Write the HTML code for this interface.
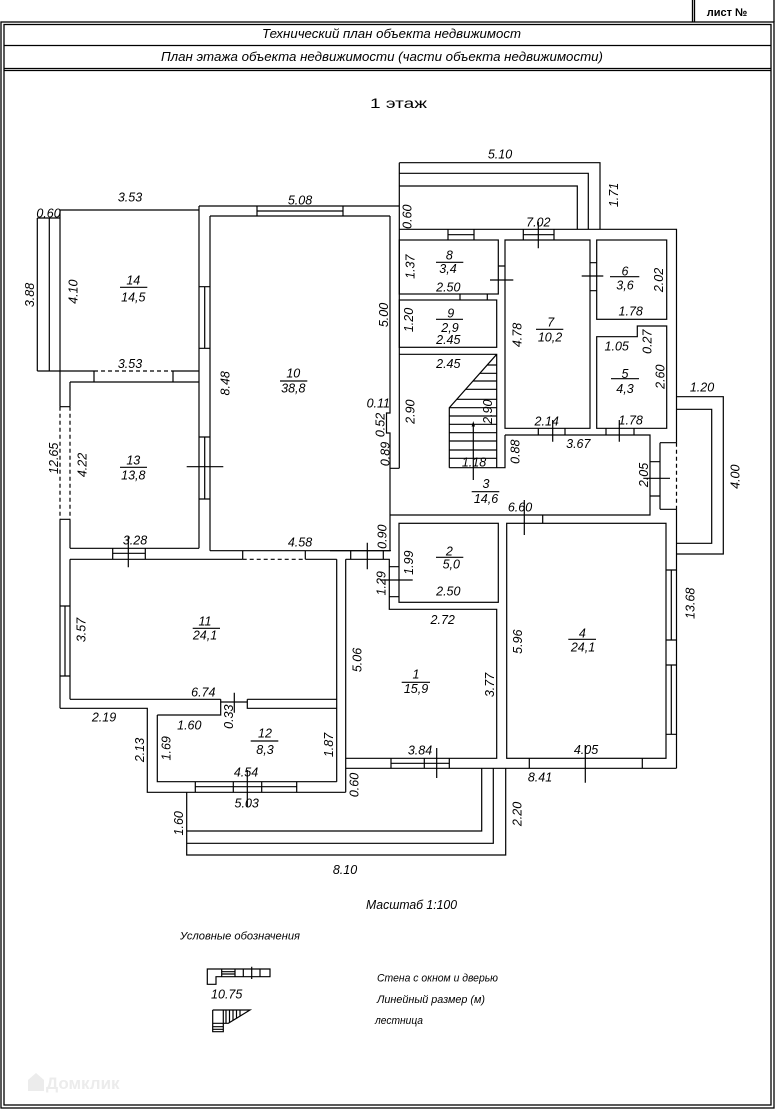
<!DOCTYPE html>
<html><head><meta charset="utf-8"><style>
html,body{margin:0;padding:0;background:#fff}
svg{display:block}
.t{font-family:"Liberation Sans",sans-serif;font-style:italic;font-size:12.5px;text-anchor:middle;fill:#000}
.h{font-family:"Liberation Sans","Noto Sans CJK SC",sans-serif;font-style:italic;text-anchor:middle;fill:#000}
</style></head><body>
<svg width="776" height="1109" viewBox="0 0 776 1109" xmlns="http://www.w3.org/2000/svg">
<g fill="none" stroke="#000" stroke-width="1.3">
<rect x="1" y="22" width="773" height="1086"/>
<rect x="4" y="24.5" width="767" height="1080.5"/>
<path d="M4 45.5H771M4 68.5H771M4 70.5H771M692.5 0V22M694.5 0V22M774 0V22"/>
</g>
<text x="727" y="16" style="font-family:'Liberation Sans',sans-serif;font-weight:bold;font-size:11px;text-anchor:middle">лист №</text>
<text class="h" x="391.5" y="38" font-size="13" textLength="259" lengthAdjust="spacingAndGlyphs">Технический план объекта недвижимост</text>
<text class="h" x="382" y="61" font-size="13" textLength="442" lengthAdjust="spacingAndGlyphs">План этажа объекта недвижимости (части объекта недвижимости)</text>
<text x="398.5" y="108" style="font-family:'Liberation Sans',sans-serif;font-size:14px;text-anchor:middle" textLength="57" lengthAdjust="spacingAndGlyphs">1 этаж</text>

<g fill="none" stroke="#000" stroke-width="1.2">
<path d="M399.3 162.7H600V229.3M399.3 173.3H588.3V229.3M399.3 186H577.3V229.3M399.3 162.7V468.3"/>
<path d="M199 206H399.3M257 206V216M343 206V216M257 211H343"/>
<path d="M210 216H390M210 216V550.7M390 216V413H386.5V433H390V550.7M210 550.7H390"/>
<path d="M60 210H199M199 206V548.3M37.3 218H60M37.3 218V371M49.3 218V371M37.3 371H94M173 371H199M94 371V382M173 371V382M70 382H199"/>
<path d="M94 371H173" stroke-dasharray="4 3"/>
<path d="M199 286.7H210M199 348.3H210M204.7 286.7V348.3M199 437H210M199 499H210M204.7 437V499M186.7 466.7H223.3"/>
<path d="M60 210V406.7M60 519.3V708.3M70 382V406.7M70 519.3V548.3M60 406.7H70M60 519.3H70"/>
<path d="M60 406.7V519.3M70 406.7V519.3" stroke-dasharray="4 3"/>
<path d="M70 548.3H199M112.7 548.3V559.3M145.3 548.3V559.3M112.7 553.3H145.3M128.3 536.7V567.3"/>
<path d="M70 559.3H242.7M305.3 559.3H336.7M242.7 550.7V559.3M305.3 550.7V559.3M70 559.3V699.3M336.7 559.3V781.7"/>
<path d="M242.7 559.3H305.3" stroke-dasharray="4 3"/>
<path d="M60 606H70M60 676H70M65 606V676"/>
<path d="M70 699.3H220.7M247.3 699.3H336.7M157.3 715H220.7V699.3M247.3 699.3V708.3H336.7M220.7 702H247.3M234.3 692.7V712.7"/>
<path d="M60 708.3H147.3V792.3H345.7M345.7 559.3V792.3M157.3 715V781.7H336.7"/>
<path d="M195.3 781.7V792.3M296.7 781.7V792.3M233.3 781.7V792.3M261.7 781.7V792.3M195.3 786.7H296.7M247.3 770V806.7"/>
<path d="M345.7 559.3H389.3V609.3H496.7V758.3H345.7M350.7 550.7V559.3M383.3 550.7V559.3M367.3 542.7V569.3"/>
<path d="M330 550.7H391"/>
<rect x="399" y="523.3" width="99.3" height="79"/>
<path d="M389.3 566.7H399M389.3 596.7H399M380 580H412.7"/>
<rect x="506.7" y="523.3" width="159.3" height="235"/>
<path d="M542.7 515V523.3M524.3 500V535M345.7 768.3H676.5"/>
<path d="M666 570H676.5M666 640H676.5M671.3 570V640M666 665H676.5M666 734.3H676.5M671.3 665V734.3"/>
<path d="M529.3 758.3V768.3M642.3 758.3V768.3M585.3 745V782.7"/>
<path d="M391 758.3V768.3M449.3 758.3V768.3M424.3 758.3V768.3M391 763.3H449.3M436.7 748V778"/>
<path d="M481.7 768.3V831H186.7M493.3 768.3V843.3H186.7M505.7 768.3V855H186.7V792.3"/>
<path d="M399.3 229.3H676.5V442.7M676.5 509.3V768.3"/>
<path d="M676.5 442.7V509.3" stroke-dasharray="4 3"/>
<rect x="399.3" y="240" width="99" height="54"/>
<path d="M448 229.3V240M474 229.3V240M448 234.7H474M498.3 266H505M490 280H513.3M460 294V300M487.3 294V300"/>
<rect x="399.3" y="300" width="97.4" height="47.3"/>
<path d="M399.3 354.3H496.7V467.7M390 468.3H399.3M449.3 467.7H505V435M496.7 354.3L449.3 407.7V467.7"/>
<path d="M487.2 365H496.7M479.8 373.3H496.7M473 381H496.7M465.6 389.3H496.7M456.8 399.3H496.7M449.3 407.7H496.7M449.3 416H496.7M449.3 424.3H496.7M449.3 432.7H496.7M449.3 441H496.7M449.3 450H496.7M449.3 458.3H496.7"/>
<path d="M473.3 423V480"/>
<path d="M505 240H590V428.3H505Z"/>
<path d="M523.3 229.3V240M554 229.3V240M523.3 234.7H554M538.3 221.7V248.3"/>
<path d="M590 262.7H596.7M590 290.7H596.7M581.7 276H603.3"/>
<rect x="596.7" y="240" width="70" height="79.3"/>
<path d="M596.7 336.7H637.3V326H666.7V428.3H596.7Z"/>
<path d="M505 435H650V515H390"/>
<path d="M538.3 428.3V435M565 428.3V435M552.7 420V441.7M606 428.3V435M634 428.3V435M619.3 420V441.7"/>
<path d="M660 442.7V509.3M650 461.7H660M650 496H660M660 442.7H676.5M660 509.3H676.5M643.3 478.3H670"/>
<path d="M676.5 396.7H723.3V554H676.5M676.5 409.3H711.7V543.3H676.5"/>
<!-- fraction lines -->
<path d="M120 287.3H147.3M280 381H307.3M120 467.3H147M436 262.3H463.3M610 276.7H639.3M436 319.3H463M536 329.3H563.3M611 378.7H639M471.7 491.7H499.3M436 557.3H463.3M192.7 628.3H220M568.3 639.3H596M401.7 682.3H430M250.7 741H278.3"/>
<!-- legend -->
<path d="M207.3 969H270V976.7H216V984.3H207.3Z"/>
<path d="M221.7 969V976.7M235 969V976.7M221.7 971.7H235M221.7 974H235M243.3 969V976.7M260 969V976.7M251.7 966.7V979"/>
<path d="M212.7 1010H250L228.3 1023.3H212.7M212.7 1010V1031.7H223.3V1010M212.7 1026.7H223.3M212.7 1029.3H223.3M226 1010V1023.3M229.5 1010V1022.6M233 1010V1020.4M236.5 1010V1018.3M240 1010V1016.1"/>
</g>
<path d="M473.3 421L471.6 426.5H475Z" fill="#000"/>

<g class="t">
<text x="130" y="201.6">3.53</text>
<text x="48.5" y="217.3">0.60</text>
<text x="300" y="204.6">5.08</text>
<text x="130" y="367.9">3.53</text>
<text x="378.3" y="407.3">0.11</text>
<text x="135" y="544.6">3.28</text>
<text x="300" y="546.3">4.58</text>
<text x="500" y="158.6">5.10</text>
<text x="538.3" y="226.3">7.02</text>
<text x="448.3" y="291.3">2.50</text>
<text x="630.7" y="315.3">1.78</text>
<text x="448.3" y="343.9">2.45</text>
<text x="616.7" y="350.6">1.05</text>
<text x="448.3" y="367.9">2.45</text>
<text x="702" y="391.3">1.20</text>
<text x="546.7" y="425.3">2.14</text>
<text x="630.7" y="424.6">1.78</text>
<text x="578.3" y="447.9">3.67</text>
<text x="474" y="466.3">1.18</text>
<text x="520" y="511.3">6.60</text>
<text x="203.3" y="696.3">6.74</text>
<text x="104" y="721.3">2.19</text>
<text x="189.3" y="729.6">1.60</text>
<text x="246" y="776.3">4.54</text>
<text x="246.7" y="807.3">5.03</text>
<text x="345" y="873.9">8.10</text>
<text x="448.3" y="595.3">2.50</text>
<text x="442.7" y="623.9">2.72</text>
<text x="420" y="754.6">3.84</text>
<text x="586" y="753.9">4.05</text>
<text x="540" y="781.3">8.41</text>
<text x="133.3" y="284.6">14</text><text x="133.3" y="301.3">14,5</text>
<text x="293.3" y="377.3">10</text><text x="293.3" y="392.5">38,8</text>
<text x="133.3" y="464.5">13</text><text x="133.3" y="479.6">13,8</text>
<text x="449.3" y="259.6">8</text><text x="448" y="272.9">3,4</text>
<text x="625" y="275.3">6</text><text x="625" y="289.6">3,6</text>
<text x="450.7" y="317.3">9</text><text x="450" y="331.9">2,9</text>
<text x="550.7" y="326.3">7</text><text x="550" y="341.3">10,2</text>
<text x="625" y="377.9">5</text><text x="625" y="392.9">4,3</text>
<text x="486" y="487.9">3</text><text x="486" y="502.9">14,6</text>
<text x="449.3" y="555.3">2</text><text x="451.3" y="568.6">5,0</text>
<text x="205" y="625.3">11</text><text x="205" y="639.6">24,1</text>
<text x="582.3" y="637.3">4</text><text x="583" y="651.3">24,1</text>
<text x="416" y="678.6">1</text><text x="416" y="692.9">15,9</text>
<text x="265" y="737.3">12</text><text x="265" y="753.9">8,3</text>
<text transform="translate(29.3 295) rotate(-90)" y="4.6">3.88</text>
<text transform="translate(72.7 291.7) rotate(-90)" y="4.6">4.10</text>
<text transform="translate(383.3 315) rotate(-90)" y="4.6">5.00</text>
<text transform="translate(225 383.3) rotate(-90)" y="4.6">8.48</text>
<text transform="translate(380 425) rotate(-90)" y="4.6">0.52</text>
<text transform="translate(385 454) rotate(-90)" y="4.6">0.89</text>
<text transform="translate(53.3 458.3) rotate(-90)" y="4.6">12.65</text>
<text transform="translate(81.7 465) rotate(-90)" y="4.6">4.22</text>
<text transform="translate(381.7 536.7) rotate(-90)" y="4.6">0.90</text>
<text transform="translate(613.3 195) rotate(-90)" y="4.6">1.71</text>
<text transform="translate(406.7 216.7) rotate(-90)" y="4.6">0.60</text>
<text transform="translate(410 266.7) rotate(-90)" y="4.6">1.37</text>
<text transform="translate(658.3 280) rotate(-90)" y="4.6">2.02</text>
<text transform="translate(408.3 320) rotate(-90)" y="4.6">1.20</text>
<text transform="translate(516.7 335) rotate(-90)" y="4.6">4.78</text>
<text transform="translate(646.7 341.7) rotate(-90)" y="4.6">0.27</text>
<text transform="translate(660 376.7) rotate(-90)" y="4.6">2.60</text>
<text transform="translate(410 411.7) rotate(-90)" y="4.6">2.90</text>
<text transform="translate(487.3 411.7) rotate(-90)" y="4.6">2.90</text>
<text transform="translate(515 451.7) rotate(-90)" y="4.6">0.88</text>
<text transform="translate(643.3 475) rotate(-90)" y="4.6">2.05</text>
<text transform="translate(735 476.7) rotate(-90)" y="4.6">4.00</text>
<text transform="translate(80.7 630) rotate(-90)" y="4.6">3.57</text>
<text transform="translate(228.3 716.7) rotate(-90)" y="4.6">0.33</text>
<text transform="translate(166 748.3) rotate(-90)" y="4.6">1.69</text>
<text transform="translate(328.3 745) rotate(-90)" y="4.6">1.87</text>
<text transform="translate(139.3 750) rotate(-90)" y="4.6">2.13</text>
<text transform="translate(178.3 823.3) rotate(-90)" y="4.6">1.60</text>
<text transform="translate(354 785) rotate(-90)" y="4.6">0.60</text>
<text transform="translate(408.3 562.7) rotate(-90)" y="4.6">1.99</text>
<text transform="translate(380.7 583.3) rotate(-90)" y="4.6">1.29</text>
<text transform="translate(690 603.3) rotate(-90)" y="4.6">13.68</text>
<text transform="translate(517.3 641.7) rotate(-90)" y="4.6">5.96</text>
<text transform="translate(356.7 660) rotate(-90)" y="4.6">5.06</text>
<text transform="translate(489.3 685) rotate(-90)" y="4.6">3.77</text>
<text transform="translate(516.7 814) rotate(-90)" y="4.6">2.20</text>
<text x="226.7" y="998.6">10.75</text>
</g>
<g class="h">
<text x="411.5" y="909" font-size="13" textLength="91" lengthAdjust="spacingAndGlyphs">Масштаб 1:100</text>
<text x="240" y="939.5" font-size="11" textLength="120" lengthAdjust="spacingAndGlyphs">Условные обозначения</text>
<text x="437.5" y="981.5" font-size="11" textLength="121" lengthAdjust="spacingAndGlyphs">Стена с окном и дверью</text>
<text x="431" y="1003" font-size="11" textLength="108" lengthAdjust="spacingAndGlyphs">Линейный размер (м)</text>
<text x="399" y="1024" font-size="11" textLength="48" lengthAdjust="spacingAndGlyphs">лестница</text>
</g>
<g fill="#ececec">
<path d="M28 1080L36 1073L44 1080V1091H28Z"/>
<text x="46" y="1089" style="font-family:'Liberation Sans',sans-serif;font-weight:bold;font-size:17px" fill="#ececec">Домклик</text>
</g>
</svg>
</body></html>
